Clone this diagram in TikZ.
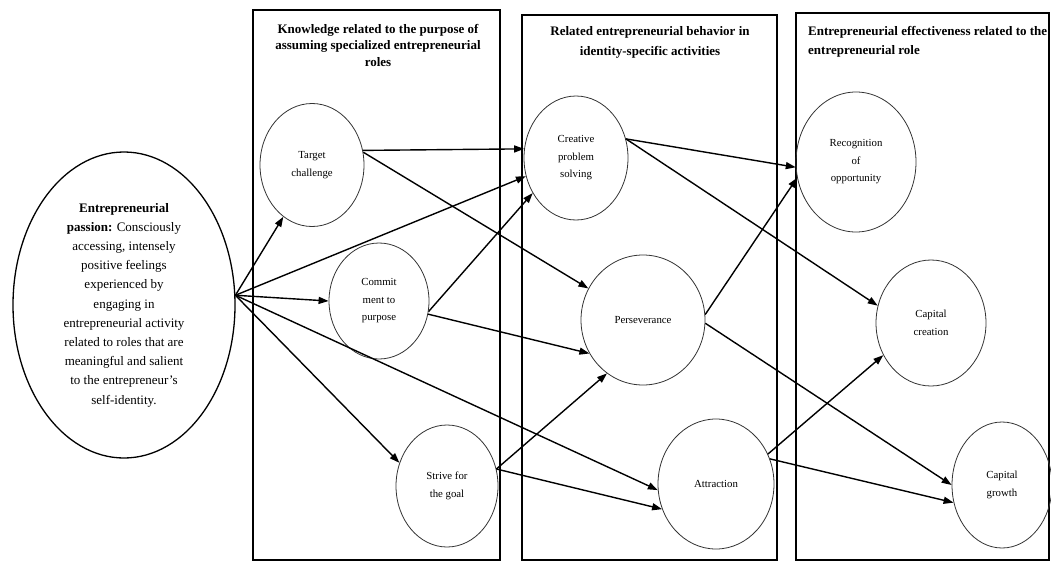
\documentclass[tikz,border=0pt]{standalone}
\usepackage{fontspec}
\setmainfont{Liberation Serif}
\usetikzlibrary{shapes.geometric,arrows.meta}
\tikzset{
	panel/.style={draw,line width=1.3pt},
	ttl/.style={font=\fontsize{13}{16.5}\selectfont\bfseries,align=center,inner sep=0pt},
	bubble/.style={ellipse,draw=black!80,line width=0.8pt,align=center,inner sep=0pt,font=\fontsize{10.8}{17.5}\selectfont},
	arr/.style={-{Triangle[length=10pt,width=7pt]},line width=1.4pt}
}
\begin{document}
\begin{tikzpicture}[x=1pt,y=-1pt]
	\useasboundingbox (0,0) rectangle (1051,562);
	\draw[panel] (253,10) rectangle (500,560) (522,15) rectangle (777,560) (796,13) rectangle (1049,560);
	\node[ttl,anchor=north] (know) at (378,24) {Knowledge related to the purpose of\\assuming specialized entrepreneurial\\roles};
	\node[ttl,anchor=north,font=\fontsize{13}{20.5}\selectfont\bfseries] (behav) at (650,26) {Related entrepreneurial behavior in\\identity-specific activities};
	\node[ttl,anchor=north west,align=left,font=\fontsize{13}{19.5}\selectfont\bfseries] (effect) at (808,26) {Entrepreneurial effectiveness related to the\\entrepreneurial role};
	\node[ellipse,draw,line width=1.3pt,minimum width=222pt,minimum height=306pt,align=center,inner sep=0pt,
		font=\fontsize{13}{19.2}\selectfont] (passion) at (124,305)
		{\textbf{Entrepreneurial}\\\textbf{passion:} Consciously\\accessing, intensely\\positive feelings\\experienced by\\engaging in\\entrepreneurial activity\\related to roles that are\\meaningful and salient\\to the entrepreneur's\\self-identity.};
	\foreach \n/\x/\y/\w/\h/\t in {target/312/165/104/123/{Target\\challenge},
		commit/379/301/100/116/{Commit\\ment to\\purpose},
		strive/447/486/102/122/{Strive for\\the goal},
		creative/576/158/104/124/{Creative\\problem\\solving},
		persev/643/320/124/130/{Perseverance},
		attract/716/484/116/130/{Attraction},
		recog/856/162/120/140/{Recognition\\of\\opportunity},
		ccreate/931/323/110/126/{Capital\\creation},
		cgrowth/1002/485/100/126/{Capital\\growth}}{
		\node[bubble,minimum width=\w pt,minimum height=\h pt] (\n) at (\x,\y) {\t};
	}
	\foreach \a/\b in {passion.5/target.241,passion.5/creative.200,passion.5/commit.180,
		passion.5/attract.186,passion.5/strive.154,target.16/creative.170,target.14/persev.150,
		commit.-12/creative.219,commit.-15/persev.212,strive.19/persev.236,strive.19/attract.205,
		creative.21/recog.185,creative.21/ccreate.162,persev.5/recog.195,persev.-3/cgrowth.180,
		attract.30/ccreate.214,attract.25/cgrowth.200}{
		\draw[arr] (\a) -- (\b);
	}
\end{tikzpicture}
\end{document}
